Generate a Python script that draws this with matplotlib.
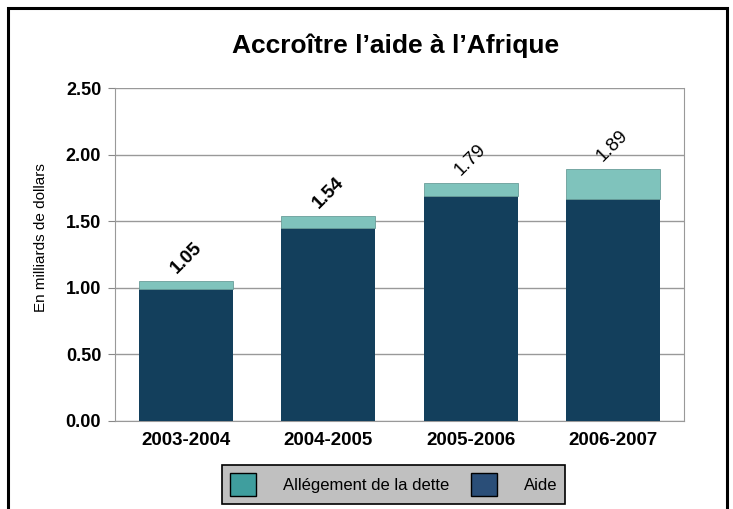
import matplotlib
matplotlib.use("Agg")
import matplotlib.pyplot as plt
from matplotlib.patches import Rectangle, Patch

plt.rcParams['font.family'] = ['Liberation Sans', 'DejaVu Sans']

categories = ["2003-2004", "2004-2005", "2005-2006", "2006-2007"]
aide = [0.99, 1.45, 1.69, 1.67]
allegement = [0.06, 0.09, 0.10, 0.22]
totals = ["1.05", "1.54", "1.79", "1.89"]
label_bold = [True, True, False, False]

fig = plt.figure(figsize=(7.33, 5.09), dpi=100)
ax = fig.add_axes([0.157, 0.173, 0.776, 0.654])

x = list(range(len(categories)))
ax.bar(x, aide, width=0.66, color="#133F5C", zorder=3)
ax.bar(x, allegement, width=0.66, bottom=aide, color="#7FC3BC",
       edgecolor="#6A9E9A", linewidth=0.6, zorder=3)

for i in x:
    top = aide[i] + allegement[i]
    ax.text(i, top + 0.03, totals[i], rotation=45, ha="center", va="bottom",
            fontsize=13.5, fontweight="bold" if label_bold[i] else "normal")

ax.set_xlim(-0.5, 3.5)
ax.set_ylim(0, 2.5)
ax.set_yticks([0, 0.5, 1.0, 1.5, 2.0, 2.5])
ax.set_yticklabels(["0.00", "0.50", "1.00", "1.50", "2.00", "2.50"],
                   fontsize=13, fontweight="bold")
ax.set_xticks(x)
ax.set_xticklabels(categories, fontsize=13.5, fontweight="bold")
ax.tick_params(axis="x", length=0, pad=8)
ax.tick_params(axis="y", length=5, color="#888888", pad=5)
ax.yaxis.grid(True, color="#999999", linewidth=1.0, zorder=0)
for s in ["left", "right", "bottom"]:
    ax.spines[s].set_color("#999999")
ax.spines["top"].set_visible(False)
ax.set_ylabel("En milliards de dollars", fontsize=11)
ax.yaxis.set_label_coords(-0.118, 0.55)

fig.text(0.54, 0.91, "Accroître l’aide à l’Afrique", ha="center", va="center",
         fontsize=19, fontweight="bold")

handles = [Patch(facecolor="#3F9E9E", edgecolor="black", label="Allégement de la dette"),
           Patch(facecolor="#2A4E78", edgecolor="black", label="Aide")]
leg = fig.legend(handles=handles, loc="center", bbox_to_anchor=(0.537, 0.048),
                 ncol=2, fontsize=12, frameon=True, fancybox=False,
                 handlelength=1.6, handleheight=1.8, columnspacing=1.3,
                 handletextpad=1.6, borderpad=0.45)
leg.get_frame().set_facecolor("#C0C0C0")
leg.get_frame().set_edgecolor("black")
leg.get_frame().set_linewidth(1.2)
leg.get_frame().set_alpha(1)

fig.patches.append(Rectangle((0.011, -0.05), 0.981, 1.034, transform=fig.transFigure,
                             fill=False, edgecolor="black", linewidth=2.2))

fig.savefig("out.png", dpi=100)
